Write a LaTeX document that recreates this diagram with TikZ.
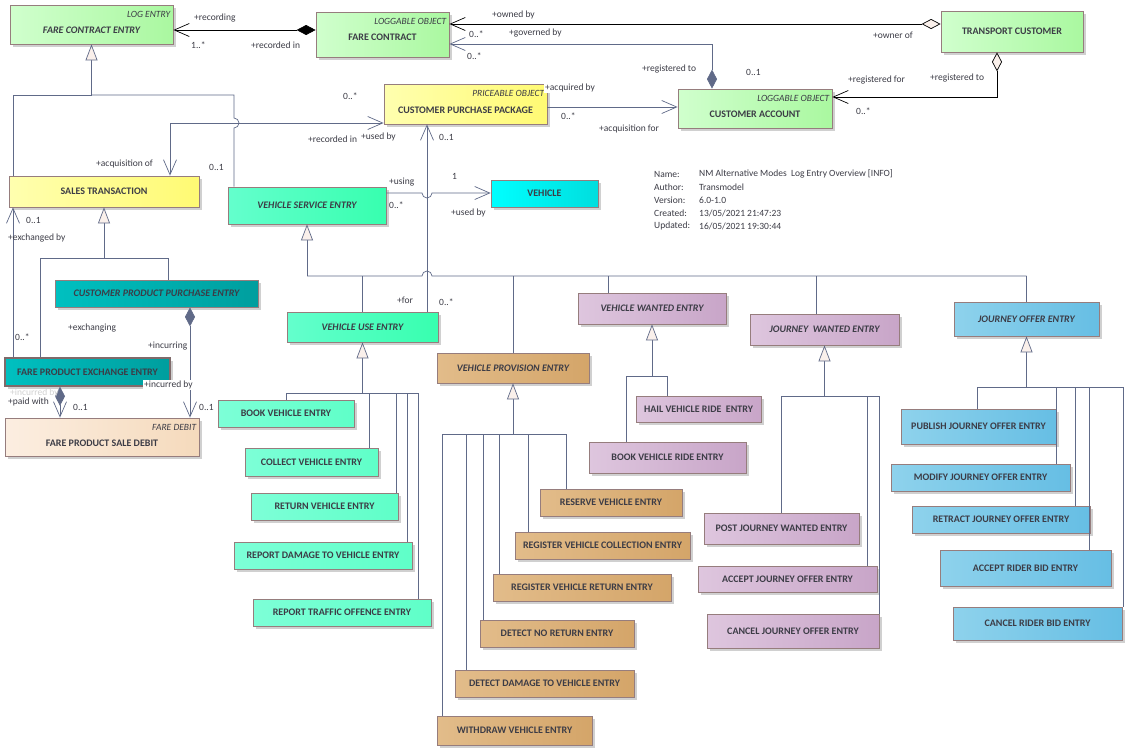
\documentclass[tikz,border=0pt]{standalone}
\usepackage{fontspec}
\setmainfont{Carlito}
\usetikzlibrary{arrows.meta}
\definecolor{linec}{RGB}{96,106,136}
\definecolor{bord}{RGB}{150,125,125}
\definecolor{txt}{RGB}{60,60,70}
\definecolor{shad}{RGB}{208,208,208}
\definecolor{genfill}{RGB}{250,240,235}
\definecolor{grA}{RGB}{208,255,205}\definecolor{grB}{RGB}{170,248,160}
\definecolor{yeA}{RGB}{255,255,175}\definecolor{yeB}{RGB}{255,250,115}
\definecolor{aqA}{RGB}{100,255,205}\definecolor{aqB}{RGB}{55,255,175}
\definecolor{lqA}{RGB}{125,255,215}\definecolor{lqB}{RGB}{95,255,200}
\definecolor{cyA}{RGB}{0,255,255}\definecolor{cyB}{RGB}{0,222,222}
\definecolor{teA}{RGB}{0,192,192}\definecolor{teB}{RGB}{0,158,158}
\definecolor{peA}{RGB}{252,238,225}\definecolor{peB}{RGB}{245,218,188}
\definecolor{taA}{RGB}{226,188,138}\definecolor{taB}{RGB}{212,165,105}
\definecolor{puA}{RGB}{222,198,222}\definecolor{puB}{RGB}{200,165,200}
\definecolor{blA}{RGB}{142,210,236}\definecolor{blB}{RGB}{102,190,228}
\newcounter{lc}
\newcommand\umlbox[7]{%
  \fill[shad] ({#2+3},{#3+3}) rectangle ({#4+3},{#5+3});
  \node[cls,#6,minimum width={(#4-#2)*1pt},minimum height={(#5-#3)*1pt}] (#1) at ({(#2+#4)/2},{(#3+#5)/2}) {#7};}
\newcommand\lbl[3][]{\stepcounter{lc}\node[lab,#1] (lab\arabic{lc}) at (#2) {#3};}
\tikzset{
  nbarb/.tip={Straight Barb[length=15pt,width=13pt]},
  gtri/.tip={Triangle[length=16pt,width=12pt,fill=genfill]},
  gdia/.tip={Diamond[length=19pt,width=10pt,fill=linec]},
  bdia/.tip={Diamond[length=19pt,width=10pt,fill=black]},
  odia/.tip={Diamond[length=19pt,width=10pt,fill=genfill]},
  cls/.style={draw=bord, line width=0.8pt, inner sep=0pt, text=txt,
    font=\bfseries\fontsize{10}{11}\selectfont, text height=6.5pt, text depth=0pt},
  abst/.style={font=\bfseries\itshape\fontsize{10}{11}\selectfont},
  stereo/.style={text height=18.4pt, label={[anchor=north east, inner sep=0pt, xshift=-3pt, yshift=-6.5pt, text height=6.5pt, text=txt, font=\itshape\fontsize{9.5}{10}\selectfont]north east:#1}},
  fgr/.style={left color=grA, right color=grB},
  fye/.style={left color=yeA, right color=yeB},
  faq/.style={left color=aqA, right color=aqB},
  flq/.style={left color=lqA, right color=lqB},
  fcy/.style={left color=cyA, right color=cyB},
  fte/.style={left color=teA, right color=teB},
  fpe/.style={left color=peA, right color=peB},
  fta/.style={left color=taA, right color=taB},
  fpu/.style={left color=puA, right color=puB},
  fbl/.style={left color=blA, right color=blB},
  conn/.style={draw=linec, line width=0.7pt},
  gen/.style={conn, -gtri},
  nav/.style={conn, -nbarb},
  lab/.style={anchor=west, inner sep=0pt, text=txt, font=\fontsize{9.5}{10}\selectfont},
}
\begin{document}
\begin{tikzpicture}[x=1pt,y=-1pt]
\fill[white] (0,0) rectangle (1133,755);
\useasboundingbox (0,0) rectangle (1133,755);
% ---- classes
\umlbox{fce}{10}{5}{173}{44}{fgr,abst,stereo=LOG ENTRY}{FARE CONTRACT ENTRY}
\umlbox{fc}{316}{12}{449}{57}{fgr,stereo=LOGGABLE OBJECT,text height=12.4pt}{FARE CONTRACT}
\umlbox{tc}{941}{11}{1083}{52}{fgr}{TRANSPORT CUSTOMER}
\umlbox{cpp}{384}{84}{547}{124}{fye,stereo=PRICEABLE OBJECT}{CUSTOMER PURCHASE PACKAGE}
\umlbox{ca}{678}{89}{832}{128}{fgr,stereo=LOGGABLE OBJECT}{CUSTOMER ACCOUNT}
\umlbox{st}{9}{176}{199}{207}{fye}{SALES TRANSACTION}
\umlbox{vse}{228}{187}{386}{224}{faq,abst}{VEHICLE SERVICE ENTRY}
\umlbox{veh}{491}{180}{598}{207}{fcy}{VEHICLE}
\umlbox{cppe}{55}{280}{258}{307}{fte,abst}{CUSTOMER PRODUCT PURCHASE ENTRY}
\umlbox{vue}{287}{312}{438}{342}{faq,abst}{VEHICLE USE ENTRY}
\umlbox{fpee}{5}{358}{170}{386}{fte,line width=1.5pt,draw=bord!85!black}{FARE PRODUCT EXCHANGE ENTRY}
\umlbox{fpsd}{5}{418}{199}{456}{fpe,stereo=FARE DEBIT}{FARE PRODUCT SALE DEBIT}
\umlbox{bve}{218}{400}{354}{427}{flq}{BOOK VEHICLE ENTRY}
\umlbox{cve}{245}{448}{378}{476}{flq}{COLLECT VEHICLE ENTRY}
\umlbox{rve}{251}{493}{398}{520}{flq}{RETURN VEHICLE ENTRY}
\umlbox{rdve}{234}{542}{412}{569}{flq}{REPORT DAMAGE TO VEHICLE ENTRY}
\umlbox{rtoe}{253}{599}{431}{626}{flq}{REPORT TRAFFIC OFFENCE ENTRY}
\umlbox{vpe}{437}{353}{589}{383}{fta,abst}{VEHICLE PROVISION ENTRY}
\umlbox{resv}{540}{489}{682}{516}{fta}{RESERVE VEHICLE ENTRY}
\umlbox{rvce}{515}{532}{690}{559}{fta}{REGISTER VEHICLE COLLECTION ENTRY}
\umlbox{rvre}{493}{574}{671}{601}{fta}{REGISTER VEHICLE RETURN ENTRY}
\umlbox{dnre}{480}{620}{634}{647}{fta}{DETECT NO RETURN ENTRY}
\umlbox{ddve}{455}{670}{634}{697}{fta}{DETECT DAMAGE TO VEHICLE ENTRY}
\umlbox{wve}{437}{716}{592}{745}{fta}{WITHDRAW VEHICLE ENTRY}
\umlbox{vwe}{578}{293}{726}{324}{fpu,abst}{VEHICLE WANTED ENTRY}
\umlbox{hvre}{636}{396}{761}{422}{fpu}{HAIL VEHICLE RIDE\ \ ENTRY}
\umlbox{bvre}{589}{442}{746}{473}{fpu}{BOOK VEHICLE RIDE ENTRY}
\umlbox{jwe}{750}{314}{899}{345}{fpu,abst}{JOURNEY\ \ WANTED ENTRY}
\umlbox{pjwe}{704}{513}{859}{544}{fpu}{POST JOURNEY WANTED ENTRY}
\umlbox{ajoe}{698}{566}{877}{592}{fpu}{ACCEPT JOURNEY OFFER ENTRY}
\umlbox{cjoe}{707}{614}{879}{648}{fpu}{CANCEL JOURNEY OFFER ENTRY}
\umlbox{joe}{954}{302}{1099}{336}{fbl,abst}{JOURNEY OFFER ENTRY}
\umlbox{pjoe}{901}{409}{1056}{444}{fbl}{PUBLISH JOURNEY OFFER ENTRY}
\umlbox{mjoe}{891}{464}{1070}{491}{fbl}{MODIFY JOURNEY OFFER ENTRY}
\umlbox{rjoe}{912}{506}{1090}{533}{fbl}{RETRACT JOURNEY OFFER ENTRY}
\umlbox{arbe}{940}{550}{1111}{586}{fbl}{ACCEPT RIDER BID ENTRY}
\umlbox{crbe}{953}{607}{1122}{640}{fbl}{CANCEL RIDER BID ENTRY}
% ---- generalisations
\coordinate (g1) at (fce.south |- 0,95);
\draw[gen] (g1) -- (fce.south);
\draw[conn] (g1) -| (st.north -| 13,0);
\draw[conn] (g1) -| (234,118) arc[start angle=-90,end angle=90,radius=5] -- (vse.north -| 234,0);
\coordinate (g2) at (vse.south |- 0,276);
\draw[gen] (g2) -- (vse.south);
\draw[conn] (g2) -- (422,276) arc[start angle=180,end angle=360,radius=5] -- (joe.north |- g2);
\foreach \n/\x in {vue/362,vpe/513,vwe/608,jwe/816,joe/1026}
  \draw[conn] (\n.north -| \x,0) -- (g2 -| \x,0);
\coordinate (g3) at (vue.south |- 0,393);
\draw[gen] (g3) -- (vue.south);
\foreach \n/\x in {bve/286,cve/369,rve/396,rdve/407,rtoe/418}
  \draw[conn] (g3) -| (\n.north -| \x,0);
\coordinate (g4) at (vpe.south |- 0,434);
\draw[gen] (g4) -- (vpe.south);
\foreach \n/\x in {wve/442,ddve/466,dnre/483,rvre/499,rvce/528,resv/566}
  \draw[conn] (g4) -| (\n.north -| \x,0);
\coordinate (g5) at (vwe.south |- 0,376);
\draw[gen] (g5) -- (vwe.south);
\foreach \n/\x in {hvre/667,bvre/626}
  \draw[conn] (g5) -| (\n.north -| \x,0);
\coordinate (g6) at (jwe.south |- 0,396);
\draw[gen] (g6) -- (jwe.south);
\foreach \n/\x in {pjwe/781,ajoe/867,cjoe/879}
  \draw[conn] (g6) -| (\n.north -| \x,0);
\coordinate (g7) at (joe.south |- 0,387);
\draw[gen] (g7) -- (joe.south);
\foreach \n/\x in {pjoe/977,mjoe/1056,rjoe/1075,arbe/1089,crbe/1123}
  \draw[conn] (g7) -| (\n.north -| \x,0);
\coordinate (g8) at (st.south |- 0,258);
\draw[gen] (g8) -- (st.south);
\draw[conn] (g8) -| (fpee.north -| 40,0);
\draw[conn] (g8) -| (cppe.north -| 168,0);
% ---- associations
\draw[draw=black,line width=0.7pt,bdia-nbarb] (fc.west |- 0,30) -- (fce.east |- 0,30);
\draw[draw=black,line width=0.7pt,odia-nbarb] (tc.west |- 0,24) -- (fc.east |- 0,24);
\draw[conn,gdia-nbarb] (ca.north -| 712,0) |- (fc.east |- 0,44);
\draw[nav] (cpp.east |- 0,107) -- (ca.west |- 0,107);
\draw[draw=black,line width=0.7pt,odia-nbarb] (tc.south -| 997,0) |- (ca.east |- 0,97);
\draw[conn,nbarb-nbarb] (cpp.west |- 0,123) -| (st.north -| 170,0);
\draw[nav] (vue.north -| 427,0) -- (cpp.south -| 427,0);
\draw[nav] (vse.east |- 0,193) -- (422,193) arc[start angle=180,end angle=0,radius=5] -- (veh.west |- 0,193);
\draw[nav] (fpee.north -| 13,0) -- (st.south -| 13,0);
\draw[conn,gdia-nbarb] (cppe.south -| 190,0) -- (fpsd.north -| 190,0);
\draw[conn,gdia-nbarb] (fpee.south -| 60,0) -- (fpsd.north -| 60,0);
% ---- role labels
\lbl{194,18}{+recording}
\lbl{191,45}{1..*}
\lbl{251,45}{+recorded in}
\lbl{492,15}{+owned by}
\lbl{469,34}{0..*}
\lbl{509,33}{+governed by}
\lbl{467,56}{0..*}
\lbl{873,35}{+owner of}
\lbl{642,69}{+registered to}
\lbl{746,72}{0..1}
\lbl{848,80}{+registered for}
\lbl{930,78}{+registered to}
\lbl{856,111}{0..*}
\lbl{343,96}{0..*}
\lbl[fill=white,inner sep=1pt]{544,88}{+acquired by}
\lbl{561,116}{0..*}
\lbl{599,129}{+acquisition for}
\lbl{308,139}{+recorded in}
\lbl{361,137}{+used by}
\lbl{439,137}{0..1}
\lbl{96,164}{+acquisition of}
\lbl{209,167}{0..1}
\lbl{26,220}{0..1}
\lbl{8,238}{+exchanged by}
\lbl{389,182}{+using}
\lbl{389,205}{0..*}
\lbl{452,176}{1}
\lbl{451,213}{+used by}
\lbl{397,300}{+for}
\lbl{439,302}{0..*}
\lbl{68,328}{+exchanging}
\lbl{15,337}{0..*}
\lbl{148,346}{+incurring}
\lbl[fill=white,inner sep=1pt]{143,385}{+incurred by}
\lbl[text=gray!35]{10,393}{+incurred by}
\lbl{8,402}{+paid with}
\lbl{73,407}{0..1}
\lbl{199,407}{0..1}
% ---- info block
\lbl{654,174}{Name:}\lbl{699,174}{NM Alternative Modes\ \ Log Entry Overview [INFO]}
\lbl{654,187}{Author:}\lbl{699,187}{Transmodel}
\lbl{654,200}{Version:}\lbl{699,200}{6.0-1.0}
\lbl{654,213}{Created:}\lbl{699,213}{13/05/2021 21:47:23}
\lbl{654,226}{Updated:}\lbl{699,226}{16/05/2021 19:30:44}
\end{tikzpicture}
\end{document}
